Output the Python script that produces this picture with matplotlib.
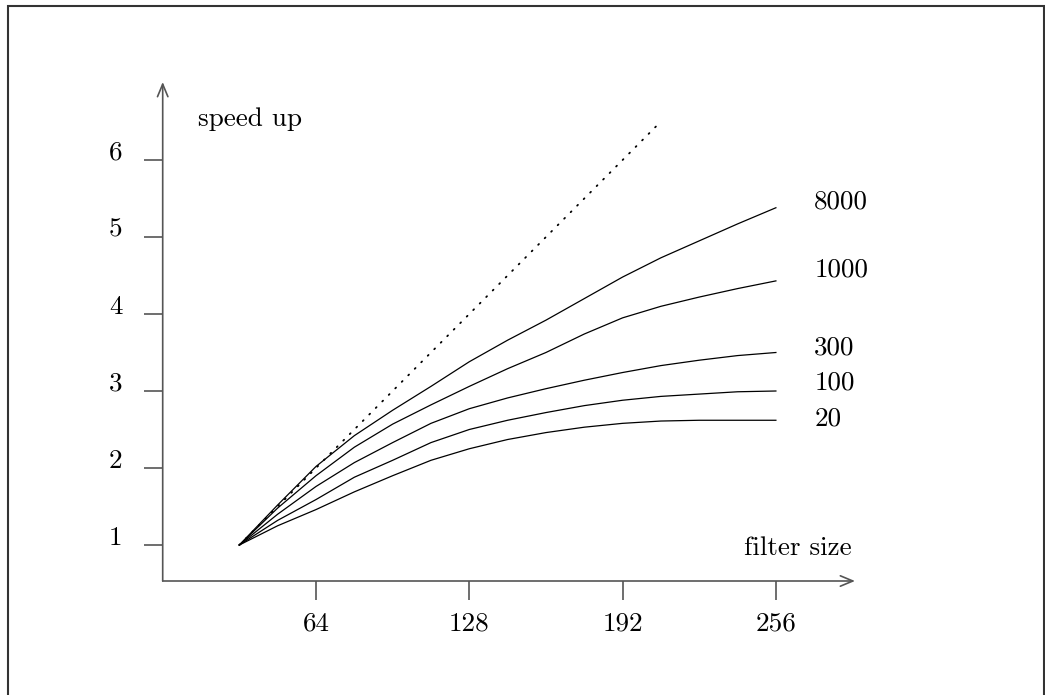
import matplotlib
matplotlib.use("Agg")
import matplotlib.pyplot as plt
from matplotlib.patches import Rectangle

plt.rcParams['font.family'] = ['cmr10', 'DejaVu Serif']
plt.rcParams['axes.formatter.use_mathtext'] = True
plt.rcParams['mathtext.fontset'] = 'cm'

# ---- data ----
filter_size = [32, 48, 64, 80, 96, 112, 128, 144, 160, 176, 192, 208, 224, 240, 256]
speed_8000 = [1.0, 1.52, 2.02, 2.42, 2.75, 3.06, 3.38, 3.66, 3.92, 4.20, 4.48, 4.73, 4.95, 5.17, 5.38]
speed_1000 = [1.0, 1.48, 1.90, 2.27, 2.57, 2.82, 3.06, 3.29, 3.50, 3.74, 3.95, 4.10, 4.22, 4.33, 4.43]
speed_300 = [1.0, 1.40, 1.76, 2.07, 2.33, 2.58, 2.77, 2.91, 3.03, 3.14, 3.24, 3.33, 3.40, 3.46, 3.50]
speed_100 = [1.0, 1.32, 1.59, 1.88, 2.10, 2.33, 2.50, 2.62, 2.72, 2.81, 2.88, 2.93, 2.96, 2.99, 3.00]
speed_20 = [1.0, 1.25, 1.46, 1.69, 1.90, 2.10, 2.25, 2.37, 2.46, 2.53, 2.58, 2.61, 2.62, 2.62, 2.62]
series_labels = ["8000", "1000", "300", "100", "20"]
label_y = [5.375, 4.485, 3.468, 3.013, 2.558]
ideal_x = [32, 208]
ideal_y = [1.0, 6.5]
x_ticks = [64, 128, 192, 256]
y_ticks = [1, 2, 3, 4, 5, 6]

W, H = 1045, 695
FS = 19.5
fig = plt.figure(figsize=(W / 100, H / 100), dpi=100)

# frame border
fig.patches.append(Rectangle((8 / W, -0.05), (1044 - 8) / W, 1.05 - 6 / H,
                             transform=fig.transFigure, fill=False,
                             edgecolor='#333333', linewidth=1.5))

ax_left, ax_right = 162.7, 855.0
ax_bottom, ax_top = 581.0, 82.0
ax = fig.add_axes([ax_left / W, (H - ax_bottom) / H,
                   (ax_right - ax_left) / W, (ax_bottom - ax_top) / H])
ppu_x = 153.3 / 64
ax.set_xlim(0, (ax_right - ax_left) / ppu_x)
ax.set_ylim(1 + (545 - ax_bottom) / 77, 1 + (545 - ax_top) / 77)
ax.patch.set_visible(False)
for s in ax.spines.values():
    s.set_visible(False)

axis_color = '#555555'
arrow_kw = dict(arrowstyle='->,head_length=0.6,head_width=0.25', lw=1.2,
                color=axis_color, shrinkA=0, shrinkB=0, mutation_scale=15)
ax.annotate('', xy=(1, 0), xytext=(0, 0), xycoords='axes fraction',
            textcoords='axes fraction', arrowprops=arrow_kw, annotation_clip=False)
ax.annotate('', xy=(0, 1), xytext=(0, 0), xycoords='axes fraction',
            textcoords='axes fraction', arrowprops=arrow_kw, annotation_clip=False)

ax.set_xticks(x_ticks)
ax.set_xticklabels([str(v) for v in x_ticks])
ax.set_yticks(y_ticks)
ax.set_yticklabels([str(v) for v in y_ticks])
ax.tick_params(axis='x', direction='out', length=14, width=1.2, color=axis_color,
               pad=8, labelsize=FS)
ax.tick_params(axis='y', direction='out', length=14, width=1.2, color=axis_color,
               pad=15, labelsize=FS)
for lab in ax.get_yticklabels():
    lab.set_verticalalignment('baseline')

# curves
for ys in [speed_8000, speed_1000, speed_300, speed_100, speed_20]:
    ax.plot(filter_size, ys, color='black', lw=0.9, clip_on=False)
ax.plot(ideal_x, ideal_y, color='black', lw=1.3, linestyle=(0, (0.6, 4.5)),
        dash_capstyle='round', clip_on=False)

for lab, yv in zip(series_labels, label_y):
    ax.text(272.0, yv, lab, fontsize=FS, ha='left', va='baseline')

ax.text(14.7, 6.445, 'speed up', fontsize=FS, ha='left', va='baseline')
ax.text(287.5, 0.87, 'filter size', fontsize=FS, ha='right', va='baseline')

fig.savefig('out.png', dpi=100)
